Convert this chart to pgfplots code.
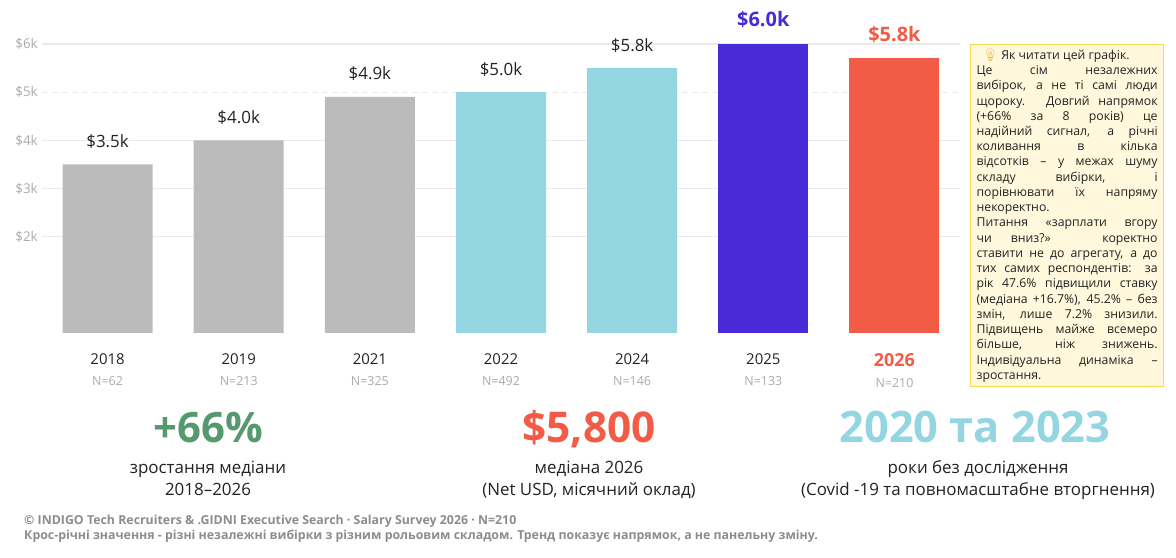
\documentclass[border=0pt]{standalone}
\usepackage{fontspec}
\setmainfont{Open Sans}
\newfontfamily\emoji{Noto Emoji}
\usepackage{pgfplots}
\pgfplotsset{compat=1.18}
\definecolor{bgray}{HTML}{BBBBBB}
\definecolor{bcyan}{HTML}{93D5E1}
\definecolor{bpurple}{HTML}{482AD6}
\definecolor{bred}{HTML}{F25B45}
\definecolor{bgreen}{HTML}{56996E}
\definecolor{dark}{HTML}{222222}
\definecolor{tgray}{HTML}{AAAAAA}
\definecolor{fgray}{HTML}{8C8C8C}
\definecolor{gridc}{HTML}{EAEAEA}
\definecolor{boxfill}{HTML}{FFF8DC}
\definecolor{boxborder}{HTML}{F8DC4A}
\definecolor{bulb}{HTML}{F2B630}
\begin{document}
\begin{tikzpicture}[x=1bp,y=1bp]
\useasboundingbox (0,0) rectangle (1176,558);
\begin{axis}[
  at={(42bp,225bp)}, anchor=south west,
  scale only axis, width=918bp, height=289bp,
  xmin=-0.5, xmax=6.5, ymin=0, ymax=6,
  clip=false,
  axis line style={draw=none},
  major tick length=0pt,
  xtick={0,1,2,3,4,5,6},
  xticklabels={
    {2018\\{\fontsize{12.5}{21}\selectfont\color{tgray}N=62}},
    {2019\\{\fontsize{12.5}{21}\selectfont\color{tgray}N=213}},
    {2021\\{\fontsize{12.5}{21}\selectfont\color{tgray}N=325}},
    {2022\\{\fontsize{12.5}{21}\selectfont\color{tgray}N=492}},
    {2024\\{\fontsize{12.5}{21}\selectfont\color{tgray}N=146}},
    {2025\\{\fontsize{12.5}{21}\selectfont\color{tgray}N=133}},
    {{\fontsize{18}{21}\selectfont\bfseries\color{bred}2026}\\{\fontsize{12.5}{21}\selectfont\color{tgray}N=210}}
  },
  xticklabel style={anchor=north, inner sep=0pt, yshift=-20.5bp, align=center, font=\fontsize{15}{21}\selectfont, text=dark},
  ytick={2,3,4,6},
  yticklabels={\$2k,\$3k,\$4k,\$6k},
  extra y ticks={5}, extra y tick labels={\$5k},
  extra y tick style={grid style={color=gridc, line width=1.2bp, dash pattern=on 6bp off 4bp}},
  ymajorgrids, grid style={color=gridc, line width=1.2bp},
  yticklabel style={anchor=east, inner sep=0pt, xshift=-4bp, font=\fontsize{13.5}{13.5}\selectfont, text=tgray},
  ybar, bar width=90bp, bar shift=0pt,
  point meta=explicit symbolic,
  nodes near coords,
  nodes near coords style={anchor=base, inner sep=0pt, yshift=17bp, font=\fontsize{17}{17}\selectfont, text=dark},
]
\addplot[fill=bgray, draw=none] coordinates {(0,3.5) [\$3.5k] (1,4.0) [\$4.0k] (2,4.9) [\$4.9k]};
\addplot[fill=bcyan, draw=none] coordinates {(3,5.0) [\$5.0k] (4,5.5) [\$5.8k]};
\addplot[fill=bpurple, draw=none, nodes near coords style={font=\fontsize{20}{20}\selectfont\bfseries, text=bpurple}] coordinates {(5,6.0) [\$6.0k]};
\addplot[fill=bred, draw=none, nodes near coords style={font=\fontsize{20}{20}\selectfont\bfseries, text=bred}] coordinates {(6,5.7) [\$5.8k]};
\end{axis}
% KPI
\node[anchor=base, font=\fontsize{42}{42}\selectfont\bfseries, text=bgreen] at (208,115) {+66\%};
\node[anchor=base, font=\fontsize{42.5}{42}\selectfont\bfseries, text=bred] at (589,115) {\$5,800};
\node[anchor=base, font=\fontsize{43.5}{42}\selectfont\bfseries, text=bcyan] at (975,115) {2020 та 2023};
\node[anchor=base, font=\fontsize{17}{17}\selectfont, text=dark] at (208,84) {зростання медіани};
\node[anchor=base, font=\fontsize{17}{17}\selectfont, text=dark] at (208,62) {2018–2026};
\node[anchor=base, font=\fontsize{17}{17}\selectfont, text=dark] at (589,84) {медіана 2026};
\node[anchor=base, font=\fontsize{17}{17}\selectfont, text=dark] at (589,62) {(Net USD, місячний оклад)};
\node[anchor=base, font=\fontsize{17}{17}\selectfont, text=dark] at (978,84) {роки без дослідження};
\node[anchor=base, font=\fontsize{17}{17}\selectfont, text=dark] at (978,62) {(Covid -19 та повномасштабне вторгнення)};
% footer
\node[anchor=base west, inner sep=0pt, font=\fontsize{12.4}{12.4}\selectfont\bfseries, text=fgray] at (24,33) {© INDIGO Tech Recruiters \& .GIDNI Executive Search · Salary Survey 2026 · N=210};
\node[anchor=base west, inner sep=0pt, font=\fontsize{12.4}{12.4}\selectfont\bfseries, text=fgray] at (24,18) {Крос-річні значення - різні незалежні вибірки з різним рольовим складом. Тренд показує напрямок, а не панельну зміну.};
% note box
\node[anchor=north west, draw=boxborder, fill=boxfill, line width=1.2bp, inner xsep=6bp, inner ysep=4bp,
      text width=181bp, minimum height=342bp, align=justify, font=\fontsize{12.3}{15.3}\selectfont, text=dark] at (970,514) {%
\tolerance=10000\hyphenpenalty=10000\exhyphenpenalty=10000%
\hspace*{6bp}{\emoji\color{bulb}💡} Як читати цей графік.\hfill\break
Це сім незалежних\linebreak
вибірок, а не ті самі люди\linebreak
щороку. Довгий напрямок\linebreak
(+66\% за 8 років) це\linebreak
надійний сигнал, а річні\linebreak
коливання в кілька\linebreak
відсотків – у межах шуму\linebreak
складу вибірки, і\linebreak
порівнювати їх напряму\linebreak
некоректно.\par
Питання «зарплати вгору\linebreak
чи вниз?» коректно\linebreak
ставити не до агрегату, а до\linebreak
тих самих респондентів: за\linebreak
рік 47.6\% підвищили ставку\linebreak
(медіана +16.7\%), 45.2\% – без\linebreak
змін, лише 7.2\% знизили.\linebreak
Підвищень майже всемеро\linebreak
більше, ніж знижень.\linebreak
Індивідуальна динаміка –\linebreak
зростання.};
\end{tikzpicture}
\end{document}
